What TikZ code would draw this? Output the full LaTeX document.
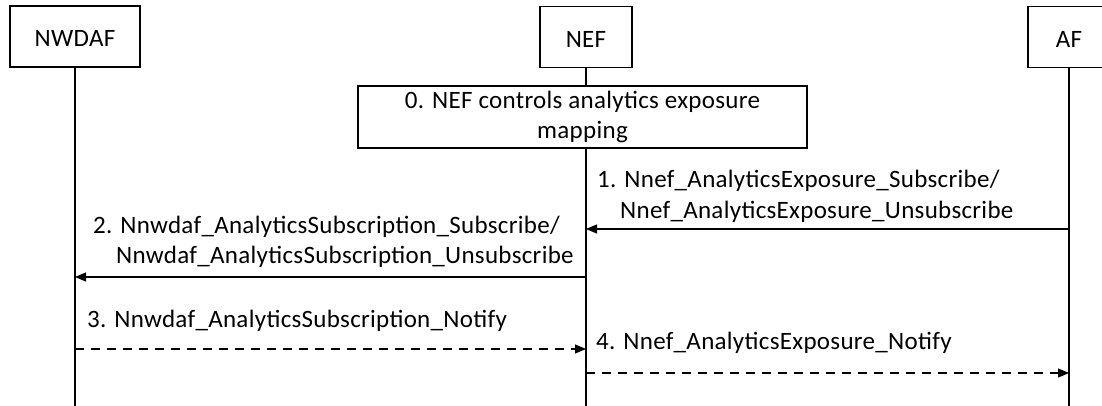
\documentclass[tikz,border=0pt]{standalone}
\usepackage{fontspec}
\setmainfont{Carlito}[LetterSpace=1.2]
\usetikzlibrary{arrows.meta}
\tikzset{
  actor/.style={draw, line width=1.1pt, minimum height=61pt, inner sep=0pt,
    font=\fontsize{25}{30}\selectfont, text height=21pt, text depth=0pt},
  notebox/.style={draw, fill=white, line width=1.1pt, minimum width=449pt, minimum height=62pt,
    inner sep=0pt, align=center, font=\fontsize{25}{30}\selectfont},
  life/.style={line width=1.1pt},
  msg/.style={line width=1.1pt, -{Triangle[length=11pt,width=9pt]}},
  reply/.style={msg, dash pattern=on 9pt off 7pt},
  lbl/.style={inner sep=0pt, align=left, font=\fontsize{25}{30}\selectfont, anchor=base west}
}
\begin{document}
\begin{tikzpicture}[x=1pt,y=-1pt]
\useasboundingbox (0,0) rectangle (1102,406);
\clip (0,0) rectangle (1102,406);
% actors
\node[actor, minimum width=130pt] (nwdaf) at (75,36.5) {NWDAF};
\node[actor, minimum width=92pt] (nef) at (586,37) {NEF};
\node[actor, minimum width=82pt] (af) at (1069,37) {AF};
% lifeline ends
\coordinate (nwdafEnd) at (75,406);
\coordinate (nefEnd) at (586,406);
\coordinate (afEnd) at (1069,406);
\draw[life] (nwdaf.south) -- (nwdafEnd);
\draw[life] (nef.south) -- (nefEnd);
\draw[life] (af.south) -- (afEnd);
% step 0
\node[notebox] (note) at (582.5,117) {0. NEF controls analytics exposure\\mapping};
% message points
\coordinate (m1a) at (1069,229); \coordinate (m1b) at (586,229);
\coordinate (m2a) at (586,277);  \coordinate (m2b) at (75,277);
\coordinate (m3a) at (75,349);   \coordinate (m3b) at (586,349);
\coordinate (m4a) at (586,373);  \coordinate (m4b) at (1069,373);
\draw[msg] (m1a) -- (m1b);
\draw[msg] (m2a) -- (m2b);
\draw[reply] (m3a) -- (m3b);
\draw[reply] (m4a) -- (m4b);
% labels (base = baseline of last line)
\node[lbl] (l1) at (597,218) {1. Nnef\_AnalyticsExposure\_Subscribe/\\\hspace*{23pt}Nnef\_AnalyticsExposure\_Unsubscribe};
\node[lbl] (l2) at (93,263) {2. Nnwdaf\_AnalyticsSubscription\_Subscribe/\\\hspace*{23pt}Nnwdaf\_AnalyticsSubscription\_Unsubscribe};
\node[lbl] (l3) at (87,327) {3. Nnwdaf\_AnalyticsSubscription\_Notify};
\node[lbl] (l4) at (596,349) {4. Nnef\_AnalyticsExposure\_Notify};
\end{tikzpicture}
\end{document}
